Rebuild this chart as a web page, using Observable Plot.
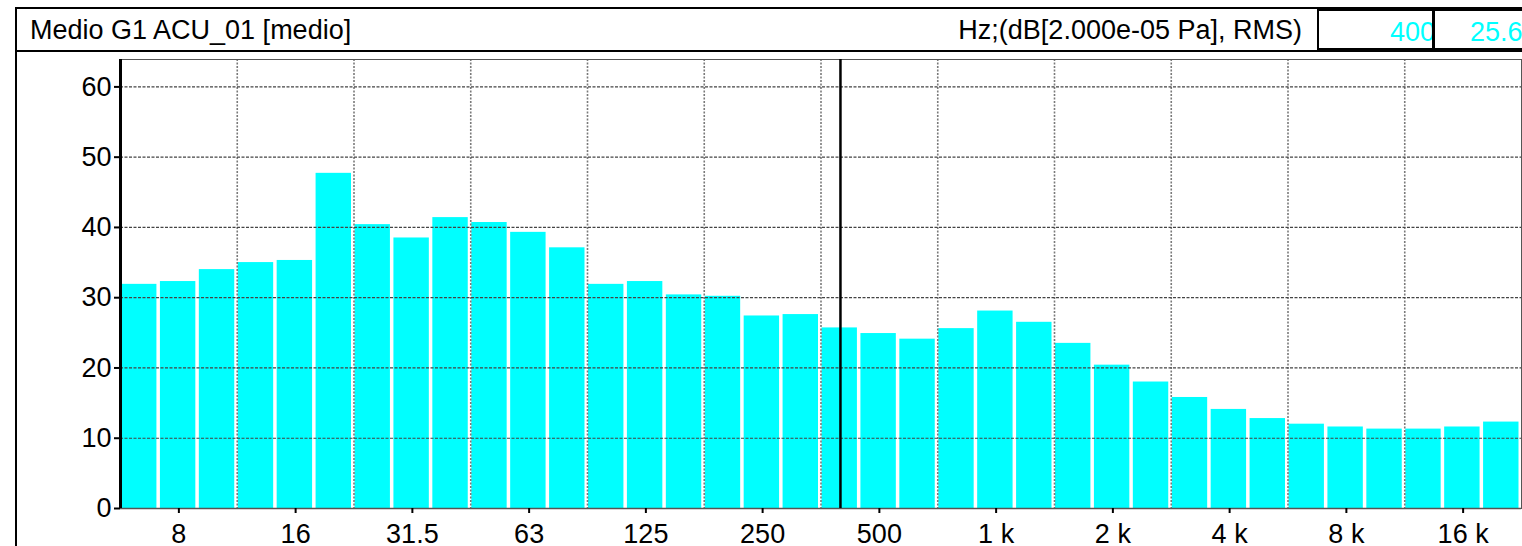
<!DOCTYPE html>
<html>
<head>
<meta charset="utf-8">
<script src="https://cdn.jsdelivr.net/npm/d3@7"></script>
<script src="https://cdn.jsdelivr.net/npm/@observablehq/plot@0.6"></script>
<style>
  html, body { margin: 0; padding: 0; background: #fff; overflow: hidden; }
  body { width: 1522px; height: 546px; position: relative; font-family: "Liberation Sans", Arial, sans-serif; }
  .hdr { position: absolute; left: 15px; top: 7px; width: 1520px; height: 45px; border: 2px solid #000; box-sizing: border-box; }
  .vline { position: absolute; left: 15px; top: 7px; width: 2px; height: 539px; background: #000; }
  .txt { position: absolute; font-size: 27px; line-height: 27px; white-space: nowrap; color: #000; }
  .box { position: absolute; top: 9px; height: 41px; border: 2px solid #000; box-sizing: border-box; overflow: hidden; background: #fff; }
  .box span { position: absolute; top: 8px; font-size: 27px; line-height: 27px; color: #00ffff; white-space: nowrap; }
  #chart { position: absolute; left: 0; top: 52px; }
</style>
</head>
<body>
<div class="hdr"></div>
<div class="vline"></div>
<div class="txt" id="title" style="left:30px; top:17px;"></div>
<div class="txt" id="unit" style="right:220px; top:17px;"></div>
<div class="box" style="left:1317px; width:117px;"><span id="cursorFreq" style="right:-3px;"></span></div>
<div class="box" style="left:1433px; width:100px;"><span id="cursorVal" style="left:35px;"></span></div>
<div id="chart"></div>
<script>
// ---- data ----
const titleText = "Medio G1 ACU_01 [medio]";
const unitText = "Hz;(dB[2.000e-05 Pa], RMS)";
const cursorBand = "400";
const cursorValue = "25.6";

const bands = ["6.3","8","10","12.5","16","20","25","31.5","40","50","63","80","100","125","160","200","250","315","400","500","630","800","1k","1.25k","1.6k","2k","2.5k","3.15k","4k","5k","6.3k","8k","10k","12.5k","16k","20k"];
const levels = [31.9,32.3,34.0,35.0,35.3,47.7,40.4,38.5,41.4,40.7,39.3,37.1,31.9,32.3,30.4,30.2,27.4,27.6,25.7,24.9,24.1,25.6,28.1,26.5,23.5,20.4,18.0,15.8,14.1,12.8,12.0,11.6,11.3,11.3,11.6,12.3];
const tickBands = ["8","16","31.5","63","125","250","500","1k","2k","4k","8k","16k"];
const tickLabels = ["8","16","31.5","63","125","250","500","1 k","2 k","4 k","8 k","16 k"];
const gridBands = ["12.5","25","50","100","200","400","800","1.6k","3.15k","6.3k","12.5k"];
const yTicks = [0,10,20,30,40,50,60];
const yMax = 63.9;

document.getElementById("title").textContent = titleText;
document.getElementById("unit").textContent = unitText;
document.getElementById("cursorFreq").textContent = cursorBand;
document.getElementById("cursorVal").textContent = cursorValue;

const rows = bands.map((b, i) => ({band: b, i, level: levels[i]}));
const idx = b => bands.indexOf(b);
const tickPos = tickBands.map(b => idx(b) + 0.5);
const labelOf = new Map(tickPos.map((p, k) => [p, tickLabels[k]]));

const chart = Plot.plot({
  width: 1522,
  height: 494,
  marginLeft: 120,
  marginRight: 1,
  marginTop: 7,
  marginBottom: 38,
  style: {fontFamily: "Liberation Sans, Arial, sans-serif", fontSize: "27px", color: "#000", background: "transparent", overflow: "visible"},
  x: {type: "linear", domain: [0, bands.length]},
  y: {domain: [0, yMax]},
  marks: [
    Plot.rectY(rows, {x1: "i", x2: d => d.i + 1, y: "level", fill: "#00ffff", insetLeft: 1, insetRight: 2.5}),
    Plot.ruleX(gridBands.map(idx), {stroke: "#7a7a7a", strokeWidth: 1.6, strokeDasharray: "2,1.5"}),
    Plot.ruleY(yTicks.filter(v => v > 0), {stroke: "#444", strokeWidth: 1.2, strokeDasharray: "3,1.5"}),
    Plot.frame({stroke: "#555", strokeWidth: 1}),
    Plot.ruleY([0], {stroke: "#555", strokeWidth: 1.5}),
    Plot.ruleX([idx(cursorBand) + 0.5], {stroke: "#000", strokeWidth: 2.5}),
    Plot.ruleX([0], {stroke: "#000", strokeWidth: 3}),
    Plot.axisY(yTicks, {tickSize: 6, tickPadding: 3, strokeWidth: 2, label: null, fontSize: 27}),
    Plot.axisX(tickPos, {tickSize: 5, tickPadding: 10, strokeWidth: 2, label: null, fontSize: 27, tickFormat: d => labelOf.get(d)})
  ]
});
document.getElementById("chart").appendChild(chart);
</script>
</body>
</html>
